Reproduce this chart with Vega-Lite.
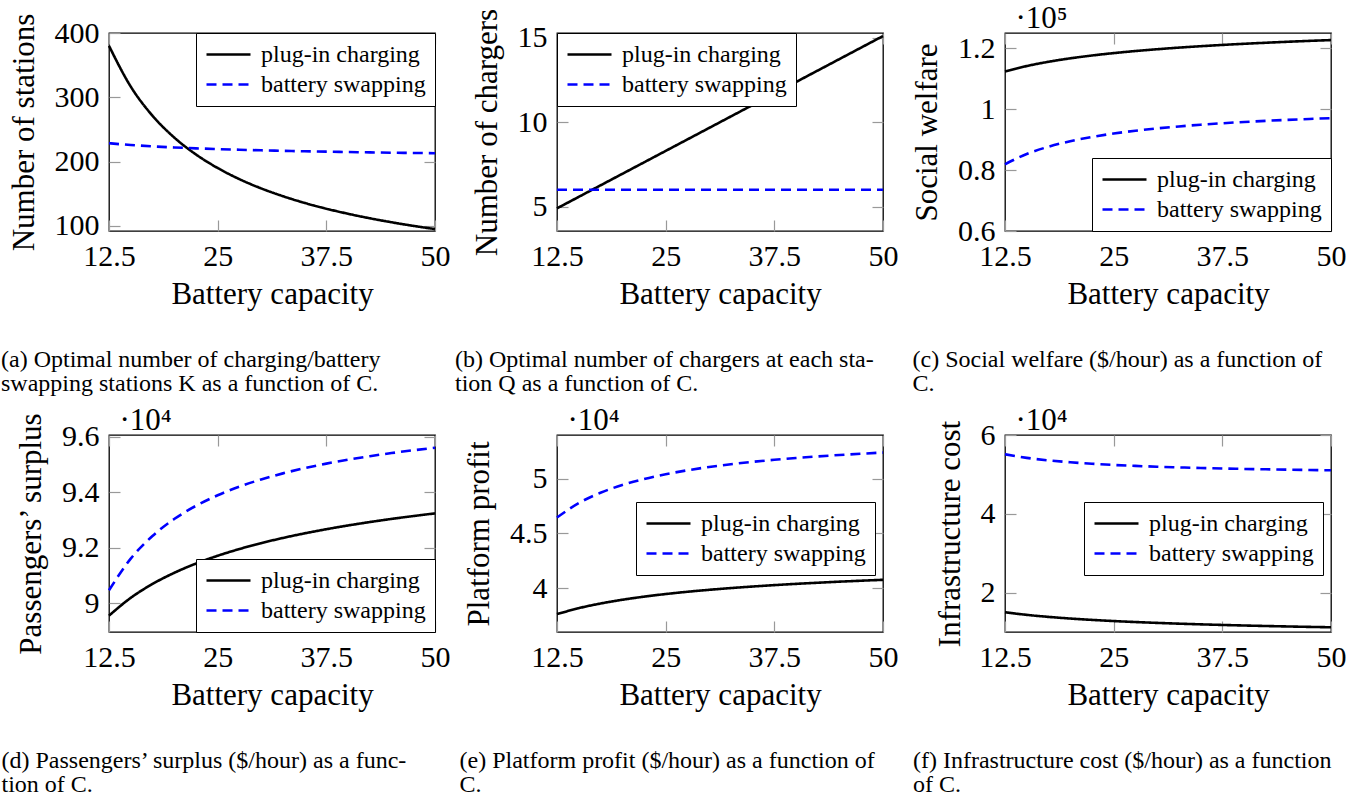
{
  "$schema": "https://vega.github.io/schema/vega-lite/v6.json",
  "padding": {"left": 0, "top": 1, "right": 5, "bottom": 0},
  "background": "white",
  "data": {"values": [
    {"C": 12.5, "s": "plug-in charging", "a": 380, "b": 4.9, "c": 112350, "d": 89558, "e": 37654, "f": 15017},
    {"C": 15, "s": "plug-in charging", "a": 316.7, "b": 5.58, "c": 114150, "d": 90199, "e": 38199, "f": 14351},
    {"C": 17.5, "s": "plug-in charging", "a": 271.4, "b": 6.26, "c": 115550, "d": 90698, "e": 38622, "f": 13834},
    {"C": 20, "s": "plug-in charging", "a": 237.5, "b": 6.94, "c": 116680, "d": 91099, "e": 38963, "f": 13418},
    {"C": 22.5, "s": "plug-in charging", "a": 211.1, "b": 7.62, "c": 117610, "d": 91432, "e": 39246, "f": 13072},
    {"C": 25, "s": "plug-in charging", "a": 190, "b": 8.3, "c": 118400, "d": 91714, "e": 39485, "f": 12780},
    {"C": 27.5, "s": "plug-in charging", "a": 172.7, "b": 8.98, "c": 119080, "d": 91956, "e": 39691, "f": 12529},
    {"C": 30, "s": "plug-in charging", "a": 158.3, "b": 9.66, "c": 119670, "d": 92168, "e": 39870, "f": 12309},
    {"C": 32.5, "s": "plug-in charging", "a": 146.2, "b": 10.34, "c": 120200, "d": 92354, "e": 40028, "f": 12116},
    {"C": 35, "s": "plug-in charging", "a": 135.7, "b": 11.02, "c": 120660, "d": 92520, "e": 40169, "f": 11944},
    {"C": 37.5, "s": "plug-in charging", "a": 126.7, "b": 11.7, "c": 121080, "d": 92669, "e": 40296, "f": 11789},
    {"C": 40, "s": "plug-in charging", "a": 118.8, "b": 12.38, "c": 121460, "d": 92804, "e": 40411, "f": 11649},
    {"C": 42.5, "s": "plug-in charging", "a": 111.8, "b": 13.06, "c": 121800, "d": 92927, "e": 40515, "f": 11522},
    {"C": 45, "s": "plug-in charging", "a": 105.6, "b": 13.74, "c": 122120, "d": 93040, "e": 40611, "f": 11405},
    {"C": 47.5, "s": "plug-in charging", "a": 100, "b": 14.42, "c": 122410, "d": 93143, "e": 40698, "f": 11298},
    {"C": 50, "s": "plug-in charging", "a": 95, "b": 15.1, "c": 122680, "d": 93239, "e": 40780, "f": 11198},
    {"C": 12.5, "s": "battery swapping", "a": 228.5, "b": 6, "c": 81900, "d": 90470, "e": 46450, "f": 55100},
    {"C": 15, "s": "battery swapping", "a": 225.8, "b": 6, "c": 85270, "d": 91610, "e": 47763, "f": 54200},
    {"C": 17.5, "s": "battery swapping", "a": 223.7, "b": 6, "c": 87670, "d": 92424, "e": 48701, "f": 53557},
    {"C": 20, "s": "battery swapping", "a": 222.0, "b": 6, "c": 89480, "d": 93035, "e": 49405, "f": 53075},
    {"C": 22.5, "s": "battery swapping", "a": 220.6, "b": 6, "c": 90880, "d": 93510, "e": 49952, "f": 52700},
    {"C": 25, "s": "battery swapping", "a": 219.4, "b": 6, "c": 92000, "d": 93890, "e": 50390, "f": 52400},
    {"C": 27.5, "s": "battery swapping", "a": 218.4, "b": 6, "c": 92920, "d": 94201, "e": 50748, "f": 52155},
    {"C": 30, "s": "battery swapping", "a": 217.5, "b": 6, "c": 93680, "d": 94460, "e": 51047, "f": 51950},
    {"C": 32.5, "s": "battery swapping", "a": 216.7, "b": 6, "c": 94330, "d": 94679, "e": 51299, "f": 51777},
    {"C": 35, "s": "battery swapping", "a": 216.0, "b": 6, "c": 94890, "d": 94867, "e": 51516, "f": 51629},
    {"C": 37.5, "s": "battery swapping", "a": 215.4, "b": 6, "c": 95370, "d": 95030, "e": 51703, "f": 51500},
    {"C": 40, "s": "battery swapping", "a": 214.8, "b": 6, "c": 95790, "d": 95173, "e": 51868, "f": 51388},
    {"C": 42.5, "s": "battery swapping", "a": 214.3, "b": 6, "c": 96160, "d": 95298, "e": 52012, "f": 51288},
    {"C": 45, "s": "battery swapping", "a": 213.8, "b": 6, "c": 96490, "d": 95410, "e": 52141, "f": 51200},
    {"C": 47.5, "s": "battery swapping", "a": 213.4, "b": 6, "c": 96780, "d": 95510, "e": 52256, "f": 51121},
    {"C": 50, "s": "battery swapping", "a": 213.0, "b": 6, "c": 97050, "d": 95600, "e": 52360, "f": 51050}
  ]},
  "columns": 3,
  "bounds": "flush",
  "spacing": {"row": 204, "column": 122},
  "concat": [
    {
      "width": 326, "height": 198,
      "title": {"text": ["(a) Optimal number of charging/battery", "swapping stations K as a function of C."], "orient": "bottom", "anchor": "start", "frame": "bounds", "offset": 39, "dx": -7},
      "layer": [
        {"mark": {"type": "line", "strokeWidth": 2.6, "interpolate": "monotone"},
         "encoding": {
           "x": {"field": "C", "type": "quantitative", "scale": {"domain": [12.5, 50], "nice": false, "zero": false}, "axis": {"orient": "bottom", "values": [12.5, 25, 37.5, 50], "labelExpr": "'' + datum.value", "title": "Battery capacity"}},
           "y": {"field": "a", "type": "quantitative", "scale": {"domain": [92, 400], "nice": false, "zero": false}, "axis": {"orient": "left", "values": [100, 200, 300, 400], "labelExpr": "'' + datum.value", "title": "Number of stations"}},
           "color": {"field": "s", "type": "nominal", "scale": {"domain": ["plug-in charging", "battery swapping"], "range": ["#000000", "#0000ff"]}, "legend": {"orient": "top-right", "offset": 0}},
           "strokeDash": {"field": "s", "type": "nominal", "scale": {"domain": ["plug-in charging", "battery swapping"], "range": [[1, 0], [10, 6]]}, "legend": {"orient": "top-right", "offset": 0}}
         }},
        {"mark": {"type": "line", "opacity": 0},
         "encoding": {
           "x": {"field": "C", "type": "quantitative", "axis": {"orient": "top", "labels": false, "values": [12.5, 25, 37.5, 50], "title": null}},
           "y": {"field": "a", "type": "quantitative", "axis": {"orient": "right", "labels": false, "values": [100, 200, 300, 400], "title": null}}
         }}
      ],
      "resolve": {"axis": {"x": "independent", "y": "independent"}}
    },
    {
      "width": 326, "height": 198,
      "title": {"text": ["(b) Optimal number of chargers at each sta-", "tion Q as a function of C."], "orient": "bottom", "anchor": "start", "frame": "bounds", "offset": 39, "dx": -16},
      "layer": [
        {"mark": {"type": "line", "strokeWidth": 2.6, "interpolate": "monotone"},
         "encoding": {
           "x": {"field": "C", "type": "quantitative", "scale": {"domain": [12.5, 50], "nice": false, "zero": false}, "axis": {"orient": "bottom", "values": [12.5, 25, 37.5, 50], "labelExpr": "'' + datum.value", "title": "Battery capacity"}},
           "y": {"field": "b", "type": "quantitative", "scale": {"domain": [3.56, 15.28], "nice": false, "zero": false}, "axis": {"orient": "left", "values": [5, 10, 15], "labelExpr": "'' + datum.value", "title": "Number of chargers"}},
           "color": {"field": "s", "type": "nominal", "scale": {"domain": ["plug-in charging", "battery swapping"], "range": ["#000000", "#0000ff"]}, "legend": {"orient": "top-left", "offset": 0}},
           "strokeDash": {"field": "s", "type": "nominal", "scale": {"domain": ["plug-in charging", "battery swapping"], "range": [[1, 0], [10, 6]]}, "legend": {"orient": "top-left", "offset": 0}}
         }},
        {"mark": {"type": "line", "opacity": 0},
         "encoding": {
           "x": {"field": "C", "type": "quantitative", "axis": {"orient": "top", "labels": false, "values": [12.5, 25, 37.5, 50], "title": null}},
           "y": {"field": "b", "type": "quantitative", "axis": {"orient": "right", "labels": false, "values": [5, 10, 15], "title": null}}
         }}
      ],
      "resolve": {"axis": {"x": "independent", "y": "independent"}}
    },
    {
      "width": 326, "height": 198,
      "title": {"text": ["(c) Social welfare ($/hour) as a function of", "C."], "orient": "bottom", "anchor": "start", "frame": "bounds", "offset": 39, "dx": 1},
      "layer": [
        {"mark": {"type": "line", "strokeWidth": 2.6, "interpolate": "monotone"},
         "encoding": {
           "x": {"field": "C", "type": "quantitative", "scale": {"domain": [12.5, 50], "nice": false, "zero": false}, "axis": {"orient": "bottom", "values": [12.5, 25, 37.5, 50], "labelExpr": "'' + datum.value", "title": "Battery capacity"}},
           "y": {"field": "c", "type": "quantitative", "scale": {"domain": [60000, 125000], "nice": false, "zero": false}, "axis": {"orient": "left", "values": [60000, 80000, 100000, 120000], "labelExpr": "format(datum.value / 100000, '~g')", "title": "Social welfare"}},
           "color": {"field": "s", "type": "nominal", "scale": {"domain": ["plug-in charging", "battery swapping"], "range": ["#000000", "#0000ff"]}, "legend": {"orient": "bottom-right", "offset": 0}},
           "strokeDash": {"field": "s", "type": "nominal", "scale": {"domain": ["plug-in charging", "battery swapping"], "range": [[1, 0], [10, 6]]}, "legend": {"orient": "bottom-right", "offset": 0}}
         }},
        {"mark": {"type": "line", "opacity": 0},
         "encoding": {
           "x": {"field": "C", "type": "quantitative", "axis": {"orient": "top", "labels": false, "values": [12.5, 25, 37.5, 50], "title": "·10⁵", "titleX": 10, "titleY": -6, "titleAlign": "left", "titleBaseline": "alphabetic"}},
           "y": {"field": "c", "type": "quantitative", "axis": {"orient": "right", "labels": false, "values": [60000, 80000, 100000, 120000], "title": null}}
         }}
      ],
      "resolve": {"axis": {"x": "independent", "y": "independent"}}
    },
    {
      "width": 326, "height": 197,
      "title": {"text": ["(d) Passengers’ surplus ($/hour) as a func-", "tion of C."], "orient": "bottom", "anchor": "start", "frame": "bounds", "offset": 39, "dx": -14},
      "layer": [
        {"mark": {"type": "line", "strokeWidth": 2.6, "interpolate": "monotone"},
         "encoding": {
           "x": {"field": "C", "type": "quantitative", "scale": {"domain": [12.5, 50], "nice": false, "zero": false}, "axis": {"orient": "bottom", "values": [12.5, 25, 37.5, 50], "labelExpr": "'' + datum.value", "title": "Battery capacity"}},
           "y": {"field": "d", "type": "quantitative", "scale": {"domain": [88970, 96060], "nice": false, "zero": false}, "axis": {"orient": "left", "values": [90000, 92000, 94000, 96000], "labelExpr": "format(datum.value / 10000, '~g')", "title": "Passengers’ surplus"}},
           "color": {"field": "s", "type": "nominal", "scale": {"domain": ["plug-in charging", "battery swapping"], "range": ["#000000", "#0000ff"]}, "legend": {"orient": "bottom-right", "offset": 0}},
           "strokeDash": {"field": "s", "type": "nominal", "scale": {"domain": ["plug-in charging", "battery swapping"], "range": [[1, 0], [10, 6]]}, "legend": {"orient": "bottom-right", "offset": 0}}
         }},
        {"mark": {"type": "line", "opacity": 0},
         "encoding": {
           "x": {"field": "C", "type": "quantitative", "axis": {"orient": "top", "labels": false, "values": [12.5, 25, 37.5, 50], "title": "·10⁴", "titleX": 10, "titleY": -6, "titleAlign": "left", "titleBaseline": "alphabetic"}},
           "y": {"field": "d", "type": "quantitative", "axis": {"orient": "right", "labels": false, "values": [90000, 92000, 94000, 96000], "title": null}}
         }}
      ],
      "resolve": {"axis": {"x": "independent", "y": "independent"}}
    },
    {
      "width": 326, "height": 197,
      "title": {"text": ["(e) Platform profit ($/hour) as a function of", "C."], "orient": "bottom", "anchor": "start", "frame": "bounds", "offset": 39, "dx": -4},
      "layer": [
        {"mark": {"type": "line", "strokeWidth": 2.6, "interpolate": "monotone"},
         "encoding": {
           "x": {"field": "C", "type": "quantitative", "scale": {"domain": [12.5, 50], "nice": false, "zero": false}, "axis": {"orient": "bottom", "values": [12.5, 25, 37.5, 50], "labelExpr": "'' + datum.value", "title": "Battery capacity"}},
           "y": {"field": "e", "type": "quantitative", "scale": {"domain": [36030, 53960], "nice": false, "zero": false}, "axis": {"orient": "left", "values": [40000, 45000, 50000], "labelExpr": "format(datum.value / 10000, '~g')", "title": "Platform profit"}},
           "color": {"field": "s", "type": "nominal", "scale": {"domain": ["plug-in charging", "battery swapping"], "range": ["#000000", "#0000ff"]}, "legend": {"orient": "none", "legendX": 79, "legendY": 67}},
           "strokeDash": {"field": "s", "type": "nominal", "scale": {"domain": ["plug-in charging", "battery swapping"], "range": [[1, 0], [10, 6]]}, "legend": {"orient": "none", "legendX": 79, "legendY": 67}}
         }},
        {"mark": {"type": "line", "opacity": 0},
         "encoding": {
           "x": {"field": "C", "type": "quantitative", "axis": {"orient": "top", "labels": false, "values": [12.5, 25, 37.5, 50], "title": "·10⁴", "titleX": 10, "titleY": -6, "titleAlign": "left", "titleBaseline": "alphabetic"}},
           "y": {"field": "e", "type": "quantitative", "axis": {"orient": "right", "labels": false, "values": [40000, 45000, 50000], "title": null}}
         }}
      ],
      "resolve": {"axis": {"x": "independent", "y": "independent"}}
    },
    {
      "width": 326, "height": 197,
      "title": {"text": ["(f) Infrastructure cost ($/hour) as a function", "of C."], "orient": "bottom", "anchor": "start", "frame": "bounds", "offset": 39, "dx": -21},
      "layer": [
        {"mark": {"type": "line", "strokeWidth": 2.6, "interpolate": "monotone"},
         "encoding": {
           "x": {"field": "C", "type": "quantitative", "scale": {"domain": [12.5, 50], "nice": false, "zero": false}, "axis": {"orient": "bottom", "values": [12.5, 25, 37.5, 50], "labelExpr": "'' + datum.value", "title": "Battery capacity"}},
           "y": {"field": "f", "type": "quantitative", "scale": {"domain": [10000, 60000], "nice": false, "zero": false}, "axis": {"orient": "left", "values": [20000, 40000, 60000], "labelExpr": "format(datum.value / 10000, '~g')", "title": "Infrastructure cost"}},
           "color": {"field": "s", "type": "nominal", "scale": {"domain": ["plug-in charging", "battery swapping"], "range": ["#000000", "#0000ff"]}, "legend": {"orient": "none", "legendX": 79, "legendY": 67}},
           "strokeDash": {"field": "s", "type": "nominal", "scale": {"domain": ["plug-in charging", "battery swapping"], "range": [[1, 0], [10, 6]]}, "legend": {"orient": "none", "legendX": 79, "legendY": 67}}
         }},
        {"mark": {"type": "line", "opacity": 0},
         "encoding": {
           "x": {"field": "C", "type": "quantitative", "axis": {"orient": "top", "labels": false, "values": [12.5, 25, 37.5, 50], "title": "·10⁴", "titleX": 10, "titleY": -6, "titleAlign": "left", "titleBaseline": "alphabetic"}},
           "y": {"field": "f", "type": "quantitative", "axis": {"orient": "right", "labels": false, "values": [20000, 40000, 60000], "title": null}}
         }}
      ],
      "resolve": {"axis": {"x": "independent", "y": "independent"}}
    }
  ],
  "config": {
    "font": "Liberation Serif, serif",
    "style": {
      "guide-label": {"font": "Liberation Serif, serif"},
      "guide-title": {"font": "Liberation Serif, serif"},
      "group-title": {"font": "Liberation Serif, serif"}
    },
    "view": {"stroke": "#000000", "strokeWidth": 1.3},
    "axis": {
      "labelFont": "Liberation Serif, serif", "titleFont": "Liberation Serif, serif",
      "labelFontSize": 30, "titleFontSize": 31,
      "labelColor": "#000000", "titleColor": "#000000", "titleFontWeight": "normal",
      "domain": false, "grid": false,
      "tickColor": "#999999", "tickWidth": 1.2, "tickSize": -11,
      "labelPadding": 21, "labelFlush": false, "labelOverlap": false
    },
    "axisBottom": {"titlePadding": 8},
    "axisLeft": {"titlePadding": 14},
    "legend": {
      "title": null, "strokeColor": "#000000", "fillColor": "#ffffff", "padding": 9,
      "symbolType": "M-1,0H3", "symbolSize": 484, "symbolStrokeWidth": 2.6, "symbolFillColor": "transparent",
      "labelFont": "Liberation Serif, serif", "labelFontSize": 24, "labelColor": "#000000",
      "labelOffset": 31, "rowPadding": 5, "cornerRadius": 0, "labelLimit": 400
    },
    "title": {"font": "Liberation Serif, serif", "fontSize": 24, "fontWeight": "normal", "color": "#000000", "lineHeight": 24}
  }
}
